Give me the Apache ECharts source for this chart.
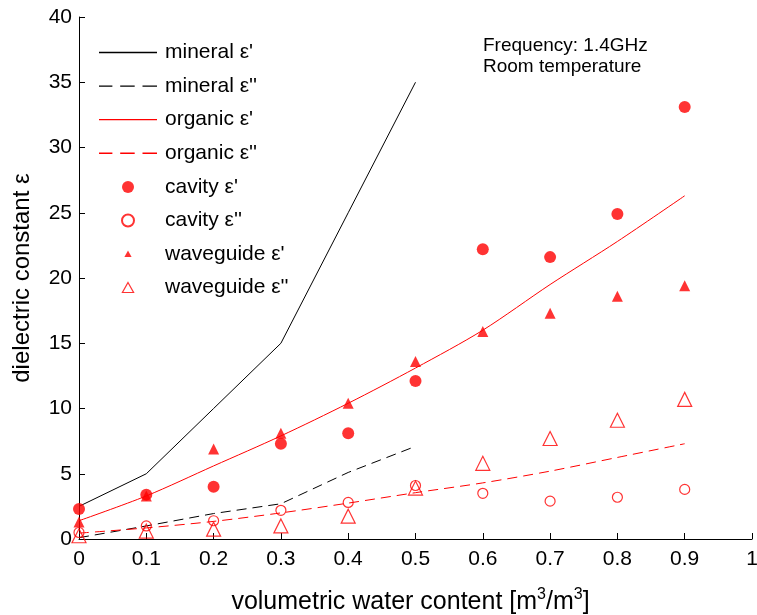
<!DOCTYPE html>
<html><head><meta charset="utf-8">
<script src="https://cdn.jsdelivr.net/npm/echarts@6/dist/echarts.min.js"></script>
<style>html,body{margin:0;padding:0;background:#fff}#c{width:757px;height:615px}</style>
</head><body><div id="c"></div>
<script>
const xMineral = [0, 0.1, 0.2, 0.3, 0.4, 0.5];
const mineralReal = [2.5, 5.0, 10.0, 15.0, 25.0, 35.0];
const mineralImag = [0.1, 1.0, 1.95, 2.7, 5.1, 7.1];
const xFull = [0, 0.1, 0.2, 0.3, 0.4, 0.5, 0.6, 0.7, 0.8, 0.9];
const organicReal = [1.4, 3.3, 5.6, 7.9, 10.4, 13.1, 16.0, 19.5, 22.8, 26.3];
const organicImag = [0.45, 0.85, 1.35, 2.0, 2.75, 3.55, 4.3, 5.2, 6.25, 7.3];
const cavityReal = [2.3, 3.4, 4.0, 7.3, 8.1, 12.1, 22.2, 21.6, 24.9, 33.1];
const cavityImag = [0.5, 1.0, 1.4, 2.2, 2.8, 4.1, 3.5, 2.9, 3.2, 3.8];
const waveguideReal = [1.3, 3.3, 6.9, 8.1, 10.4, 13.6, 15.9, 17.3, 18.6, 19.4];
const waveguideImag = [0.25, 0.6, 0.75, 1.0, 1.75, 3.9, 5.8, 7.7, 9.1, 10.7];
const seriesNames = ["mineral ε'", "mineral ε''", "organic ε'", "organic ε''", "cavity ε'", "cavity ε''", "waveguide ε'", "waveguide ε''"];

const pairs = (xs, ys) => xs.map((x, i) => [x, ys[i]]);
const FONT = 'Liberation Sans, Arial, sans-serif';
const RED = '#ff0000';
const SOLID_ICON = 'path://M0,0h58v1.3h-58z';
const DASH_ICON = 'path://M0,0h12v1.3h-12zM19,0h13v1.3h-13zM39,0h13v1.3h-13z';
const SMALL_TRI = 'path://M0,0L0,0M6,2.5L9.6,9L2.4,9ZM12,12L12,12';
const OPEN_TRI = 'path://M0,0L0,0M6,0.8L11.6,10.8L0.4,10.8ZM12,12L12,12';

const chart = echarts.init(document.getElementById('c'), null, {renderer: 'canvas'});
chart.setOption({
  animation: false,
  grid: {left: 79, right: 5, top: 17, bottom: 76, containLabel: false, outerBoundsMode: 'none'},
  legend: {
    orient: 'vertical', left: 99, top: 41, padding: 0,
    itemWidth: 58, itemHeight: 12, itemGap: 10.6,
    symbolKeepAspect: true,
    textStyle: {fontFamily: FONT, fontSize: 21, color: '#000', padding: [0, 0, 0, 3], lineHeight: 23},
    data: [
      {name: seriesNames[0], icon: SOLID_ICON, itemStyle: {color: '#000', borderWidth: 0}},
      {name: seriesNames[1], icon: DASH_ICON, itemStyle: {color: '#000', borderWidth: 0}},
      {name: seriesNames[2], icon: SOLID_ICON, itemStyle: {color: RED, borderWidth: 0}},
      {name: seriesNames[3], icon: DASH_ICON, itemStyle: {color: RED, borderWidth: 0}},
      {name: seriesNames[4], icon: 'circle'},
      {name: seriesNames[5], icon: 'circle'},
      {name: seriesNames[6], icon: SMALL_TRI, itemStyle: {color: RED, borderWidth: 0}},
      {name: seriesNames[7], icon: OPEN_TRI, itemStyle: {color: 'rgba(255,255,255,0)', borderColor: RED, borderWidth: 1.2}}
    ],
    selectedMode: false
  },
  graphic: [
    {type: 'text', left: 483, top: 35, style: {text: 'Frequency: 1.4GHz\nRoom temperature', font: '19px ' + FONT, fill: '#000', lineHeight: 21}}
  ],
  xAxis: {
    type: 'value', min: 0, max: 1, interval: 0.1,
    name: 'volumetric water content [m{s|3}/m{s|3}]',
    nameLocation: 'middle', nameGap: 48,
    nameTextStyle: {fontFamily: FONT, fontSize: 25, color: '#000', padding: [0, 10, 0, 0],
      rich: {s: {fontFamily: FONT, fontSize: 16, color: '#000', padding: [0, 0, 14, 0]}}},
    axisLine: {show: true, lineStyle: {color: '#000', width: 1}},
    axisTick: {show: true, inside: true, length: 6, lineStyle: {color: '#000'}},
    axisLabel: {fontFamily: FONT, fontSize: 21, color: '#000', margin: 10},
    splitLine: {show: false}
  },
  yAxis: {
    type: 'value', min: 0, max: 40, interval: 5,
    name: 'dielectric constant ε', nameLocation: 'middle', nameGap: 45,
    nameTextStyle: {fontFamily: FONT, fontSize: 24, color: '#000'},
    axisLine: {show: true, lineStyle: {color: '#000', width: 1}},
    axisTick: {show: true, inside: true, length: 6, lineStyle: {color: '#000'}},
    axisLabel: {fontFamily: FONT, fontSize: 21, color: '#000', margin: 7},
    splitLine: {show: false}
  },
  series: [
    {name: seriesNames[0], type: 'line', data: pairs(xMineral, mineralReal), symbol: 'none',
      lineStyle: {color: '#000', width: 1}, itemStyle: {color: '#000'}},
    {name: seriesNames[1], type: 'line', data: pairs(xMineral, mineralImag), symbol: 'none',
      lineStyle: {color: '#000', width: 1, type: [10, 6]}, itemStyle: {color: '#000'}},
    {name: seriesNames[2], type: 'line', data: pairs(xFull, organicReal), symbol: 'none', smooth: 0.3,
      lineStyle: {color: RED, width: 1}, itemStyle: {color: RED}},
    {name: seriesNames[3], type: 'line', data: pairs(xFull, organicImag), symbol: 'none', smooth: 0.3,
      lineStyle: {color: RED, width: 1, type: [10, 6]}, itemStyle: {color: RED}},
    {name: seriesNames[4], type: 'scatter', data: pairs(xFull, cavityReal), symbol: 'circle', symbolSize: 12,
      itemStyle: {color: RED}, z: 5},
    {name: seriesNames[5], type: 'scatter', data: pairs(xFull, cavityImag), symbol: 'circle', symbolSize: 10,
      itemStyle: {color: 'rgba(255,255,255,0)', borderColor: RED, borderWidth: 1.2}, z: 5},
    {name: seriesNames[6], type: 'scatter', data: pairs(xFull, waveguideReal), symbol: 'triangle', symbolSize: 11,
      itemStyle: {color: RED}, z: 5},
    {name: seriesNames[7], type: 'scatter', data: pairs(xFull, waveguideImag), symbol: 'triangle', symbolSize: 14,
      itemStyle: {color: 'rgba(255,255,255,0)', borderColor: RED, borderWidth: 1.2}, z: 5}
  ]
});
</script></body></html>
